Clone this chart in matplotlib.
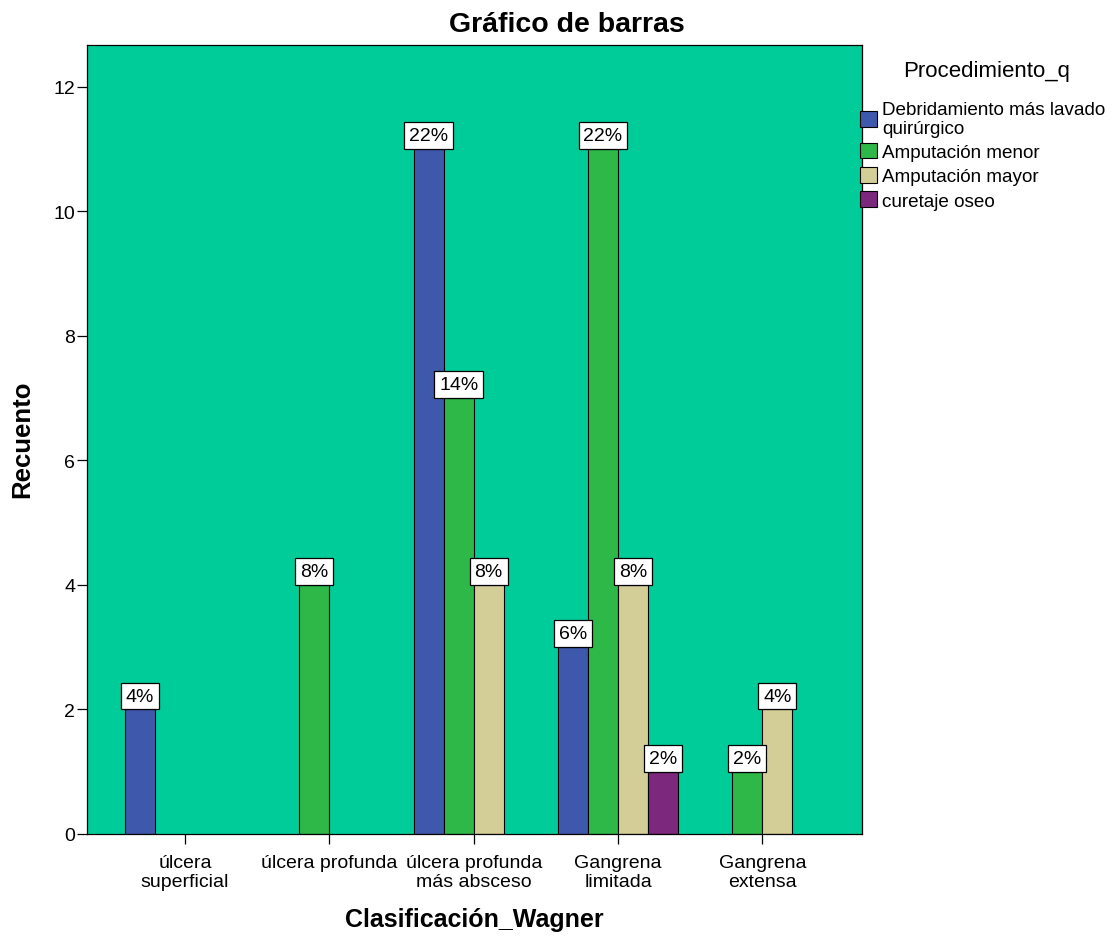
import numpy as np
import matplotlib
matplotlib.use("Agg")
import matplotlib.pyplot as plt

plt.rcParams['font.family'] = ['Liberation Sans', 'DejaVu Sans']

# Wagner classification groups (x axis)
categories = ["úlcera\nsuperficial", "úlcera profunda", "úlcera profunda\nmás absceso",
              "Gangrena\nlimitada", "Gangrena\nextensa"]

# Procedure series (legend) and counts per group
series_names = ["Debridamiento más lavado\nquirúrgico", "Amputación menor",
                "Amputación mayor", "curetaje oseo"]
debridamiento = [2, 0, 11, 3, 0]
amputacion_menor = [0, 4, 7, 11, 1]
amputacion_mayor = [0, 0, 4, 4, 2]
curetaje = [0, 0, 0, 1, 0]

series_values = [debridamiento, amputacion_menor, amputacion_mayor, curetaje]
series_colors = ["#3E58AC", "#2EB848", "#D3CE97", "#7C287D"]
yticks = [0, 2, 4, 6, 8, 10, 12]

total = sum(sum(s) for s in series_values)

W, H = 1114, 937
fig = plt.figure(figsize=(W / 100, H / 100), dpi=100)
ax = fig.add_axes([87 / W, 1 - 835 / H, (862 - 87) / W, (835 - 46) / H])
ax.set_facecolor("#00CC99")

x = np.arange(len(categories))
width = 0.208
offsets = (np.arange(len(series_values)) - 1.5) * width

handles = []
for vals, color, off, name in zip(series_values, series_colors, offsets, series_names):
    vals = np.asarray(vals, dtype=float)
    mask = vals > 0
    bars = ax.bar(x[mask] + off, vals[mask], width=width, color=color,
                  edgecolor="black", linewidth=0.8, label=name, zorder=2)
    handles.append(bars)
    for xi, v in zip(x[mask] + off, vals[mask]):
        ax.annotate(f"{round(v / total * 100)}%", xy=(xi, v), xytext=(0, 3.5),
                    textcoords="offset points", ha="center", va="bottom",
                    fontsize=14, zorder=5,
                    bbox=dict(boxstyle="square,pad=0.25", fc="white",
                              ec="black", lw=0.9))

ax.set_xlim(-0.679, 4.69)
ax.set_ylim(0, 12.67)
ax.set_yticks(yticks)
ax.set_xticks(x)
ax.set_xticklabels(categories, fontsize=14, linespacing=1.12)
ax.tick_params(axis="y", labelsize=14, length=7.5, width=0.9, pad=1, direction="out")
ax.tick_params(axis="x", length=7, width=0.9, pad=7.5, direction="out")
for sp in ax.spines.values():
    sp.set_linewidth(0.9)
    sp.set_color("black")

fig.text(567 / W, 1 - 25 / H, "Gráfico de barras", ha="center", va="center",
         fontsize=20.5, fontweight="bold")
fig.text(474 / W, 1 - 920 / H, "Clasificación_Wagner", ha="center", va="center",
         fontsize=18, fontweight="bold")
fig.text(22 / W, 1 - 439 / H, "Recuento", ha="center", va="center",
         rotation=90, fontsize=18.5, fontweight="bold")

fig.text(987 / W, 1 - 72 / H, "Procedimiento_q", ha="center", va="center",
         fontsize=16)
leg = fig.legend(handles=handles, labels=series_names, loc="upper left",
                 bbox_to_anchor=(860 / W, 1 - 102 / H), frameon=False,
                 fontsize=13.6, handlelength=0.9, handleheight=0.9,
                 handletextpad=0.27, labelspacing=0.32, borderpad=0,
                 borderaxespad=0)
for t in leg.get_texts():
    t.set_linespacing(1.12)

fig.savefig("out.png", dpi=100, facecolor="white")
